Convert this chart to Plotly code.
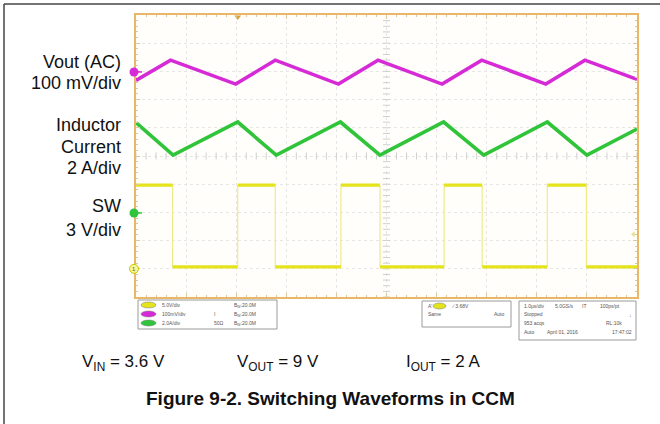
import numpy as np
import plotly.graph_objects as go

W, H = 660, 424

# scope time base: 1 us/div, 10 divisions
vout_t = [0.0, 0.69, 1.99, 2.78, 4.04, 4.83, 6.11, 6.90, 8.18, 8.96, 10.0]
vout_mv = [-30, 42, -43, 42, -43, 42, -43, 42, -43, 42, -26]

il_t = [0.0, 0.74, 2.03, 2.80, 4.08, 4.87, 6.14, 6.94, 8.21, 9.00, 10.0]
il_a = [6.4, 4.1, 6.45, 4.1, 6.45, 4.1, 6.45, 4.1, 6.45, 4.1, 5.95]

sw_edges_us = [0.73, 2.03, 2.78, 4.09, 4.87, 6.15, 6.91, 8.21, 8.99]
sw_high_v = 8.9
sw_low_v = 0.2

# channel settings: volts(or A, mV)/div and ground marker position in divisions
ch_scale = {"vout": 100, "il": 2, "sw": 3}
ch_offset = {"vout": 2.98, "il": -2.02, "sw": -4.0}
ch_color = {"vout": "#d62ad6", "il": "#2fc43a", "sw": "#e4e31c"}
trig_time_us = 2.03
trig_level_v = 3.68

left_labels = [("Vout (AC)", 62), ("100 mV/div", 83), ("Inductor", 125),
               ("Current", 147), ("2 A/div", 168), ("SW", 206), ("3 V/div", 230)]
cond_labels = [("V<sub>IN</sub> = 3.6 V", 123), ("V<sub>OUT</sub> = 9 V", 278),
               ("I<sub>OUT</sub> = 2 A", 443)]
caption = "Figure 9-2. Switching Waveforms in CCM"


def to_div(vals, ch):
    return ch_offset[ch] + np.asarray(vals, dtype=float) / ch_scale[ch]


def px(x):
    return x / W


def py(y):
    return 1 - y / H


fig = go.Figure()

# center graticule ticks
tk = np.arange(0, 10.001, 0.2)
fig.add_trace(go.Scatter(x=tk, y=np.zeros_like(tk), mode="markers", hoverinfo="skip",
                         marker=dict(symbol="line-ns", size=5, line=dict(color="#cfcfcf", width=1))))
vk = np.arange(-5, 5.001, 0.2)
fig.add_trace(go.Scatter(x=np.full_like(vk, 5), y=vk, mode="markers", hoverinfo="skip",
                         marker=dict(symbol="line-ew", size=5, line=dict(color="#cfcfcf", width=1))))

# SW: thick levels, thin edges
bounds = [0.0] + sw_edges_us + [10.0]
hx, hy, vx, vy = [], [], [], []
for i in range(len(bounds) - 1):
    lvl = sw_high_v if i % 2 == 0 else sw_low_v
    hx += [bounds[i], bounds[i + 1], None]
    hy += [lvl, lvl, None]
for e in sw_edges_us:
    vx += [e, e, None]
    vy += [sw_high_v, sw_low_v, None]
fig.add_trace(go.Scatter(x=vx, y=[None if v is None else to_div(v, "sw") for v in vy],
                         mode="lines", line=dict(color="#eeeb8a", width=1.2), hoverinfo="skip"))
fig.add_trace(go.Scatter(x=hx, y=[None if v is None else to_div(v, "sw") for v in hy],
                         mode="lines", line=dict(color=ch_color["sw"], width=3.2), name="SW"))

fig.add_trace(go.Scatter(x=il_t, y=to_div(il_a, "il"), mode="lines",
                         line=dict(color=ch_color["il"], width=3.6), name="IL"))
fig.add_trace(go.Scatter(x=vout_t, y=to_div(vout_mv, "vout"), mode="lines",
                         line=dict(color=ch_color["vout"], width=3.6), name="Vout"))

# trigger markers
fig.add_trace(go.Scatter(x=[trig_time_us], y=[4.93], mode="markers", cliponaxis=False,
                         marker=dict(symbol="triangle-down", size=6, color="#e0a030"), hoverinfo="skip"))
fig.add_trace(go.Scatter(x=[9.93], y=[to_div(trig_level_v, "sw")], mode="markers", cliponaxis=False,
                         marker=dict(symbol="triangle-left", size=5, color="#e8e090"), hoverinfo="skip"))

ax = dict(showgrid=True, gridcolor="#e6e6e6", griddash="dot", gridwidth=1, zeroline=False,
          showticklabels=False, ticks="inside", ticklen=4, tickcolor="#dcc79e",
          showline=True, linecolor="#e8b868", linewidth=2, mirror="allticks",
          minor=dict(ticks="inside", ticklen=2, tickcolor="#dcc79e", showgrid=False),
          fixedrange=True)

fig.update_layout(
    width=W, height=H, margin=dict(l=0, r=0, t=0, b=0),
    paper_bgcolor="white", plot_bgcolor="#fffefa", showlegend=False,
    xaxis=dict(ax, range=[0, 10], dtick=1, minor=dict(ax["minor"], dtick=0.2),
               domain=[px(136), px(637)]),
    yaxis=dict(ax, range=[-5, 5], dtick=1, minor=dict(ax["minor"], dtick=0.2),
               domain=[py(297), py(15)]),
    font=dict(family="Liberation Sans, Arial, sans-serif", color="#111"),
)

shapes = []
# outer frame (left and top edges)
shapes.append(dict(type="line", xref="paper", yref="paper", x0=px(4), x1=px(4), y0=py(4), y1=0,
                   line=dict(color="#444", width=1.5)))
shapes.append(dict(type="line", xref="paper", yref="paper", x0=px(4), x1=1, y0=py(4), y1=py(4),
                   line=dict(color="#444", width=1.5)))

# channel ground markers at the left edge of the screen
r = 4.5 / 28.2
for ch in ["vout", "il"]:
    shapes.append(dict(type="line", xref="paper", yref="y", x0=px(134), x1=px(142),
                       y0=ch_offset[ch], y1=ch_offset[ch], line=dict(color=ch_color[ch], width=1.5)))
    shapes.append(dict(type="circle", xref="paper", yref="y", x0=px(129.5), x1=px(138.5),
                       y0=ch_offset[ch] - r, y1=ch_offset[ch] + r, fillcolor=ch_color[ch],
                       line=dict(width=0)))
shapes.append(dict(type="circle", xref="paper", yref="y", x0=px(129.5), x1=px(138.5),
                   y0=ch_offset["sw"] - r, y1=ch_offset["sw"] + r, fillcolor="#f6f59a",
                   line=dict(color="#c9c600", width=1)))

# scope info boxes
for x0, x1, y0, y1 in [(138, 277, 300, 329), (422, 511, 301, 327), (519, 636, 301, 340)]:
    shapes.append(dict(type="rect", xref="paper", yref="paper", x0=px(x0), x1=px(x1),
                       y0=py(y1), y1=py(y0), line=dict(color="#9a9a9a", width=1)))
for (ych, col) in [(305, ch_color["sw"]), (314, ch_color["vout"]), (323, ch_color["il"])]:
    shapes.append(dict(type="circle", xref="paper", yref="paper", x0=px(141), x1=px(156),
                       y0=py(ych + 3), y1=py(ych - 3), fillcolor=col, line=dict(color="#777", width=0.5)))
shapes.append(dict(type="circle", xref="paper", yref="paper", x0=px(433), x1=px(446),
                   y0=py(309), y1=py(303), fillcolor=ch_color["sw"], line=dict(color="#777", width=0.5)))
fig.update_layout(shapes=shapes)

ann = []
for txt, y in left_labels:
    ann.append(dict(text=txt, x=px(123), y=py(y), xref="paper", yref="paper", xanchor="right",
                    yanchor="middle", showarrow=False, font=dict(size=18)))
for txt, x in cond_labels:
    ann.append(dict(text=txt, x=px(x), y=py(363), xref="paper", yref="paper", xanchor="center",
                    yanchor="middle", showarrow=False, font=dict(size=17)))
ann.append(dict(text="<b>" + caption + "</b>", x=px(331), y=py(398), xref="paper", yref="paper",
                xanchor="center", yanchor="middle", showarrow=False,
                font=dict(size=19, family="Liberation Sans, Arial, sans-serif")))
ann.append(dict(text="1", x=px(134), y=ch_offset["sw"], xref="paper", yref="y", xanchor="center",
                yanchor="middle", showarrow=False, font=dict(size=6, color="#666600")))

tiny = dict(size=5, color="#555")
info_txt = [("5.0V/div", 160, 305), ("100mV/div", 160, 314), ("2.0A/div", 160, 323),
            ("B<sub>W</sub>:20.0M", 232, 305), ("B<sub>W</sub>:20.0M", 232, 314), ("B<sub>W</sub>:20.0M", 232, 323),
            ("\u2170", 212, 314), ("50\u03a9", 212, 323),
            ("A'", 426, 306), ("\u2215 3.68V", 449, 306), ("Same", 426, 314), ("Auto", 492, 314),
            ("1.0\u00b5s/div", 522, 306), ("5.0GS/s", 553, 306), ("IT", 580, 306), ("100ps/pt", 598, 306),
            ("Stopped", 522, 314), ("\u2193", 627, 315),
            ("953 acqs", 522, 323), ("RL:10k", 604, 323),
            ("Auto", 522, 332), ("April 01, 2016", 545, 332), ("17:47:02", 610, 332)]
for txt, x, y in info_txt:
    ann.append(dict(text=txt, x=px(x), y=py(y), xref="paper", yref="paper", xanchor="left",
                    yanchor="middle", showarrow=False, font=tiny))
fig.update_layout(annotations=ann)

fig.write_html("out.html", config={"displayModeBar": False},
               post_script="document.body.style.margin='0px';")
